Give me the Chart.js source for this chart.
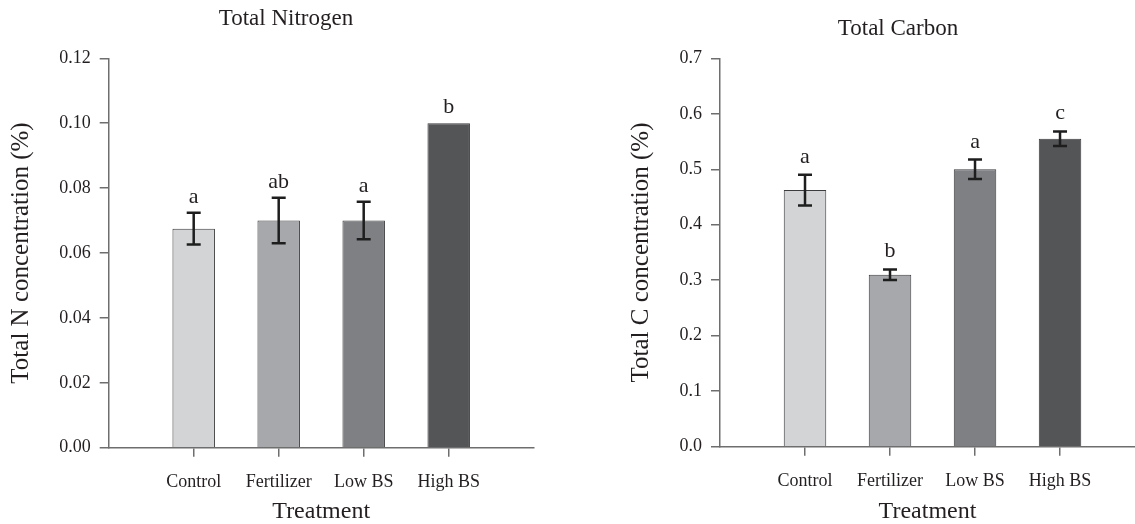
<!DOCTYPE html>
<html>
<head>
<meta charset="utf-8">
<script src="https://cdn.jsdelivr.net/npm/chart.js@4"></script>
<style>
  html, body { margin: 0; padding: 0; background: #fff; overflow: hidden; }
  #wrap { position: relative; width: 1135px; height: 524px; }
  canvas { position: absolute; top: 0; }
</style>
</head>
<body>
<div id="wrap">
  <canvas id="nitrogen" width="572" height="524" style="left:0"></canvas>
  <canvas id="carbon" width="563" height="524" style="left:572px"></canvas>
</div>
<script>
const categories = ['Control', 'Fertilizer', 'Low BS', 'High BS'];
const barColors = ['#d3d4d6', '#a7a8ab', '#7f8084', '#545557'];

const nitrogenMean = [0.0675, 0.070, 0.070, 0.100];
const nitrogenSE = [0.0049, 0.0070, 0.0058, 0];
const nitrogenLetters = ['a', 'ab', 'a', 'b'];
const nitrogenTicks = [0, 0.02, 0.04, 0.06, 0.08, 0.10, 0.12];

const carbonMean = [0.4625, 0.310, 0.500, 0.555];
const carbonSE = [0.0278, 0.0095, 0.0175, 0.0132];
const carbonLetters = ['a', 'b', 'a', 'c'];
const carbonTicks = [0, 0.1, 0.2, 0.3, 0.4, 0.5, 0.6, 0.7];

const ink = '#231f20';
const axisGray = '#6e6e6e';
const serif = 'Liberation Serif, Times New Roman, serif';

// error bars + significance letters on top of the bars
function errorBarPlugin(means, se, letters, gap) {
  return {
    id: 'errorBars',
    afterDatasetsDraw(chart) {
      const { ctx } = chart;
      const yScale = chart.scales.y;
      const bars = chart.getDatasetMeta(0).data;
      ctx.save();
      ctx.strokeStyle = '#1e1e1e';
      ctx.lineWidth = 2.5;
      ctx.fillStyle = ink;
      ctx.font = '22px ' + serif;
      ctx.textAlign = 'center';
      ctx.textBaseline = 'alphabetic';
      bars.forEach((bar, i) => {
        let top = bar.y;
        if (se[i] > 0) {
          top = yScale.getPixelForValue(means[i] + se[i]);
          const bottom = yScale.getPixelForValue(means[i] - se[i]);
          ctx.beginPath();
          ctx.moveTo(bar.x, top);
          ctx.lineTo(bar.x, bottom);
          ctx.moveTo(bar.x - 7, top);
          ctx.lineTo(bar.x + 7, top);
          ctx.moveTo(bar.x - 7, bottom);
          ctx.lineTo(bar.x + 7, bottom);
          ctx.stroke();
        }
        ctx.fillText(letters[i], bar.x, top - gap);
      });
      ctx.restore();
    },
  };
}

function panelTitlePlugin(text, x, y) {
  return {
    id: 'panelTitle',
    afterDraw(chart) {
      const { ctx } = chart;
      ctx.save();
      ctx.fillStyle = ink;
      ctx.font = '23px ' + serif;
      ctx.textAlign = 'center';
      ctx.textBaseline = 'middle';
      ctx.fillText(text, x, y);
      ctx.restore();
    },
  };
}

function buildPanel({ el, means, se, letters, ticks, decimals, yMax, xMax, yTitle,
  yWidth, yTitlePad, xHeight, padRight, title, titleX, titleY, gap }) {
  return new Chart(el, {
    type: 'bar',
    data: {
      datasets: [{
        data: means.map((v, i) => ({ x: i + 1, y: v })),
        backgroundColor: barColors,
        borderColor: '#3c3c3e',
        borderWidth: 1,
        barPercentage: 0.5,
        categoryPercentage: 1,
      }],
    },
    options: {
      responsive: false,
      devicePixelRatio: 1,
      animation: false,
      layout: { padding: { left: 0, right: padRight, top: 58.3, bottom: 0 } },
      plugins: { legend: { display: false }, tooltip: { enabled: false } },
      scales: {
        x: {
          type: 'linear',
          min: 0,
          max: xMax,
          offset: false,
          afterBuildTicks(s) { s.ticks = categories.map((c, i) => ({ value: i + 1 })); },
          afterFit(s) { s.height = xHeight; },
          ticks: {
            callback: (v) => categories[v - 1],
            font: { family: serif, size: 18 },
            color: ink,
            padding: 15,
            maxRotation: 0,
            autoSkip: false,
          },
          grid: { drawOnChartArea: false, offset: false, tickLength: 9, color: axisGray, lineWidth: 1.5 },
          border: { color: axisGray, width: 1.5 },
          title: {
            display: true,
            text: 'Treatment',
            color: ink,
            font: { family: serif, size: 24, lineHeight: 1 },
            padding: { top: 0, bottom: 0 },
          },
        },
        y: {
          min: 0,
          max: yMax,
          afterBuildTicks(s) { s.ticks = ticks.map((v) => ({ value: v })); },
          afterFit(s) { s.width = yWidth; },
          ticks: {
            callback: (v) => v.toFixed(decimals),
            font: { family: serif, size: 18 },
            color: ink,
            padding: 9,
          },
          grid: { drawOnChartArea: false, tickLength: 9, color: axisGray, lineWidth: 1.5 },
          border: { color: axisGray, width: 1.5 },
          title: {
            display: true,
            text: yTitle,
            color: ink,
            font: { family: serif, size: 25, lineHeight: 1 },
            padding: { top: yTitlePad, bottom: 0 },
          },
        },
      },
    },
    plugins: [errorBarPlugin(means, se, letters, gap), panelTitlePlugin(title, titleX, titleY)],
  });
}

buildPanel({
  el: document.getElementById('nitrogen'),
  means: nitrogenMean, se: nitrogenSE, letters: nitrogenLetters,
  ticks: nitrogenTicks, decimals: 2, yMax: 0.12, xMax: 5,
  yTitle: 'Total N concentration (%)',
  yWidth: 108.7, yTitlePad: 9, xHeight: 76.3, padRight: 38.3,
  title: 'Total Nitrogen', titleX: 286, titleY: 18.5, gap: 10,
});

buildPanel({
  el: document.getElementById('carbon'),
  means: carbonMean, se: carbonSE, letters: carbonLetters,
  ticks: carbonTicks, decimals: 1, yMax: 0.7, xMax: 4.882,
  yTitle: 'Total C concentration (%)',
  yWidth: 148, yTitlePad: 57, xHeight: 77.3, padRight: 0,
  title: 'Total Carbon', titleX: 326, titleY: 29, gap: 12,
});
</script>
</body>
</html>
